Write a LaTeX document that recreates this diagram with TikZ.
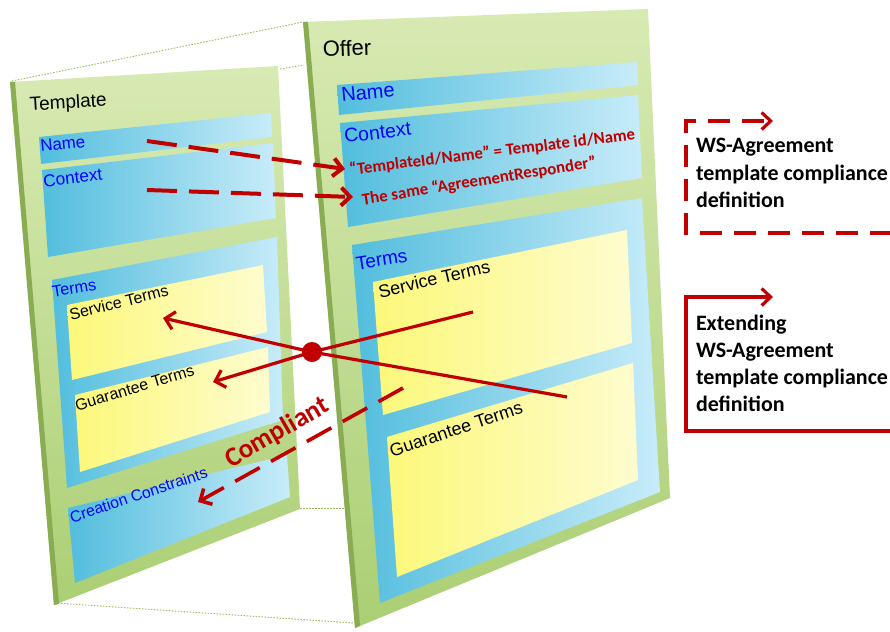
\documentclass[tikz,border=0pt]{standalone}
\usepackage{fontspec}
\setmainfont{Liberation Sans}
\newfontfamily\calfont{Carlito}
\usetikzlibrary{arrows.meta}
\definecolor{gTop}{HTML}{D8EAB3}
\definecolor{gBot}{HTML}{ABCF74}
\definecolor{gEdge}{HTML}{8AAC52}
\definecolor{bL}{HTML}{52BDDD}
\definecolor{bR}{HTML}{C8ECF9}
\definecolor{yL}{HTML}{FCF87A}
\definecolor{yR}{HTML}{FEFCCF}
\definecolor{rd}{HTML}{C00000}
\definecolor{dotg}{HTML}{9BBB59}
\begin{document}
\begin{tikzpicture}[x=1pt,y=-1pt,
  panel/.style={top color=gTop,bottom color=gBot},
  edgestrip/.style={fill=gEdge},
  bluebox/.style={left color=bL,middle color=bL!92!bR,right color=bR},
  yelbox/.style={left color=yL,middle color=yL,right color=yR},
  dotline/.style={draw=dotg,line width=0.9pt,dash pattern=on 1.5pt off 1.5pt},
  txt/.style={anchor=base west,inner sep=0pt,outer sep=0pt},
  fs/.style={font=\fontsize{#1}{#1}\selectfont},
  bl/.style={txt,text=blue},
  bk/.style={txt,text=black},
  rt/.style={txt,text=rd,font=\calfont\bfseries\fontsize{16.8}{19}\selectfont},
  leg/.style={txt,text=black,font=\calfont\bfseries\fontsize{22}{27}\selectfont},
  tip/.style={-{Straight Barb[length=9pt,width=18pt]}},
  dasharrow/.style={draw=rd,line width=4pt,dash pattern=on 30pt off 12pt,tip},
  solidarrow/.style={draw=rd,line width=3.2pt,tip},
  legline/.style={draw=rd,line width=3.2pt,-{Straight Barb[length=9pt,width=17pt]}}
]
\useasboundingbox (0,0) rectangle (890,631);
\clip (0,0) rectangle (890,631);
\fill[white] (0,0) rectangle (890,631);

% dotted perspective lines
\draw[dotline] (12,81) -- (303,22);
\draw[dotline] (280,69) -- (304,65);
\draw[dotline] (300,508) -- (345,508);
\draw[dotline] (55,603) -- (354,623);

% ---------- Template panel ----------
\shade[panel] (10,82)--(278,66)--(300,509)--(54,605)--cycle;
\fill[edgestrip] (10,82)--(15,81.7)--(59,604)--(54,605)--cycle;
\shade[bluebox] (39,137)--(271,113)--(272,137)--(41,164)--cycle;
\shade[bluebox] (42,170)--(273,143)--(276,218)--(48,257)--cycle;
\shade[bluebox] (52,280)--(277,237)--(283,420)--(67,488)--cycle;
\shade[yelbox] (67,305)--(263,265)--(267,332)--(72,380)--cycle;
\shade[yelbox] (75,395)--(268,347)--(270,412)--(80,472)--cycle;
\shade[bluebox] (68,508)--(287,455)--(290,497)--(75,583)--cycle;

\node[bk,fs=19,rotate=3.5] (ttitle) at (30,111) {Template};
\node[bl,fs=16.8,rotate=6] (tname) at (41,152) {Name};
\node[bl,fs=17.2,rotate=7] (tcontext) at (44,187) {Context};
\node[bl,fs=16.3,rotate=9] (tterms) at (53,297) {Terms};
\node[bk,fs=16,rotate=14] (tservice) at (71,320) {Service Terms};
\node[bk,fs=16,rotate=17] (tguar) at (77,411) {Guarantee Terms};
\node[bl,fs=15.8,rotate=18.5] (tcc) at (72,523) {Creation Constraints};

% ---------- Offer panel ----------
\shade[panel] (303,22)--(648,9)--(670,498)--(355,628)--cycle;
\fill[edgestrip] (303,22)--(308,21.8)--(360,626)--(355,628)--cycle;
\shade[bluebox] (337,85)--(637,62)--(638,85)--(339,115)--cycle;
\shade[bluebox] (340,123)--(638,95)--(642,178)--(348,227)--cycle;
\shade[bluebox] (352,245)--(642,198)--(660,492)--(380,603)--cycle;
\shade[yelbox] (373,282)--(627,230)--(632,343)--(383,415)--cycle;
\shade[yelbox] (387,437)--(633,363)--(638,480)--(397,577)--cycle;

\node[bk,fs=22,rotate=2] (otitle) at (323,57) {Offer};
\node[bl,fs=20,rotate=5.5] (oname) at (342,102) {Name};
\node[bl,fs=19.5,rotate=6.8] (ocontext) at (345,143) {Context};
\node[rt,rotate=7] (oline1) at (350,175) {“TemplateId/Name” = Template id/Name};
\node[rt,rotate=9.2] (oline2) at (363,205) {The same “AgreementResponder”};
\node[bl,fs=19,rotate=9] (oterms) at (357,270) {Terms};
\node[bk,fs=18,rotate=13] (oservice) at (380,298) {Service Terms};
\node[bk,fs=18,rotate=18.5] (oguar) at (392,457) {Guarantee Terms};

% ---------- red connectors ----------
\coordinate (nameSrc) at (147,141);
\coordinate (nameDst) at (345,169);
\coordinate (ctxSrc) at (147,190);
\coordinate (ctxDst) at (353,197);
\draw[dasharrow] (nameSrc) -- (nameDst);
\draw[dasharrow] (ctxSrc) -- (ctxDst);

\node[circle,fill=rd,inner sep=0pt,minimum size=20pt] (hub) at (312,352) {};
\coordinate (offGuar) at (567,397);
\coordinate (offServ) at (473,312);
\coordinate (tplServ) at (163,318);
\coordinate (tplGuar) at (213,382);
\draw[solidarrow] (offGuar) -- (hub.center) -- (tplServ);
\draw[solidarrow] (offServ) -- (hub.center) -- (tplGuar);

\coordinate (ccSrc) at (403,388);
\coordinate (ccDst) at (198,502);
\draw[draw=rd,line width=3.6pt,dash pattern=on 28pt off 13pt,tip] (ccSrc) -- (ccDst);
\node[txt,text=rd,font=\calfont\bfseries\fontsize{27}{30}\selectfont,rotate=30] (compl) at (231,468) {Compliant};

% ---------- legend ----------
\coordinate (l1a) at (892,233);
\coordinate (l1b) at (686,233);
\coordinate (l1c) at (686,121);
\coordinate (l1d) at (773,121);
\draw[legline,dash pattern=on 22pt off 12pt] (l1a) -- (l1b) -- (l1c) -- (l1d);
\node[leg] (lg1a) at (696,153) {WS-Agreement};
\node[leg] (lg1b) at (696,180) {template compliance};
\node[leg] (lg1c) at (696,207) {definition};

\coordinate (l2a) at (892,431);
\coordinate (l2b) at (686,431);
\coordinate (l2c) at (686,297);
\coordinate (l2d) at (773,297);
\draw[legline] (l2a) -- (l2b) -- (l2c) -- (l2d);
\node[leg] (lg2a) at (696,330) {Extending};
\node[leg] (lg2b) at (696,357) {WS-Agreement};
\node[leg] (lg2c) at (696,384) {template compliance};
\node[leg] (lg2d) at (696,411) {definition};
\end{tikzpicture}
\end{document}
